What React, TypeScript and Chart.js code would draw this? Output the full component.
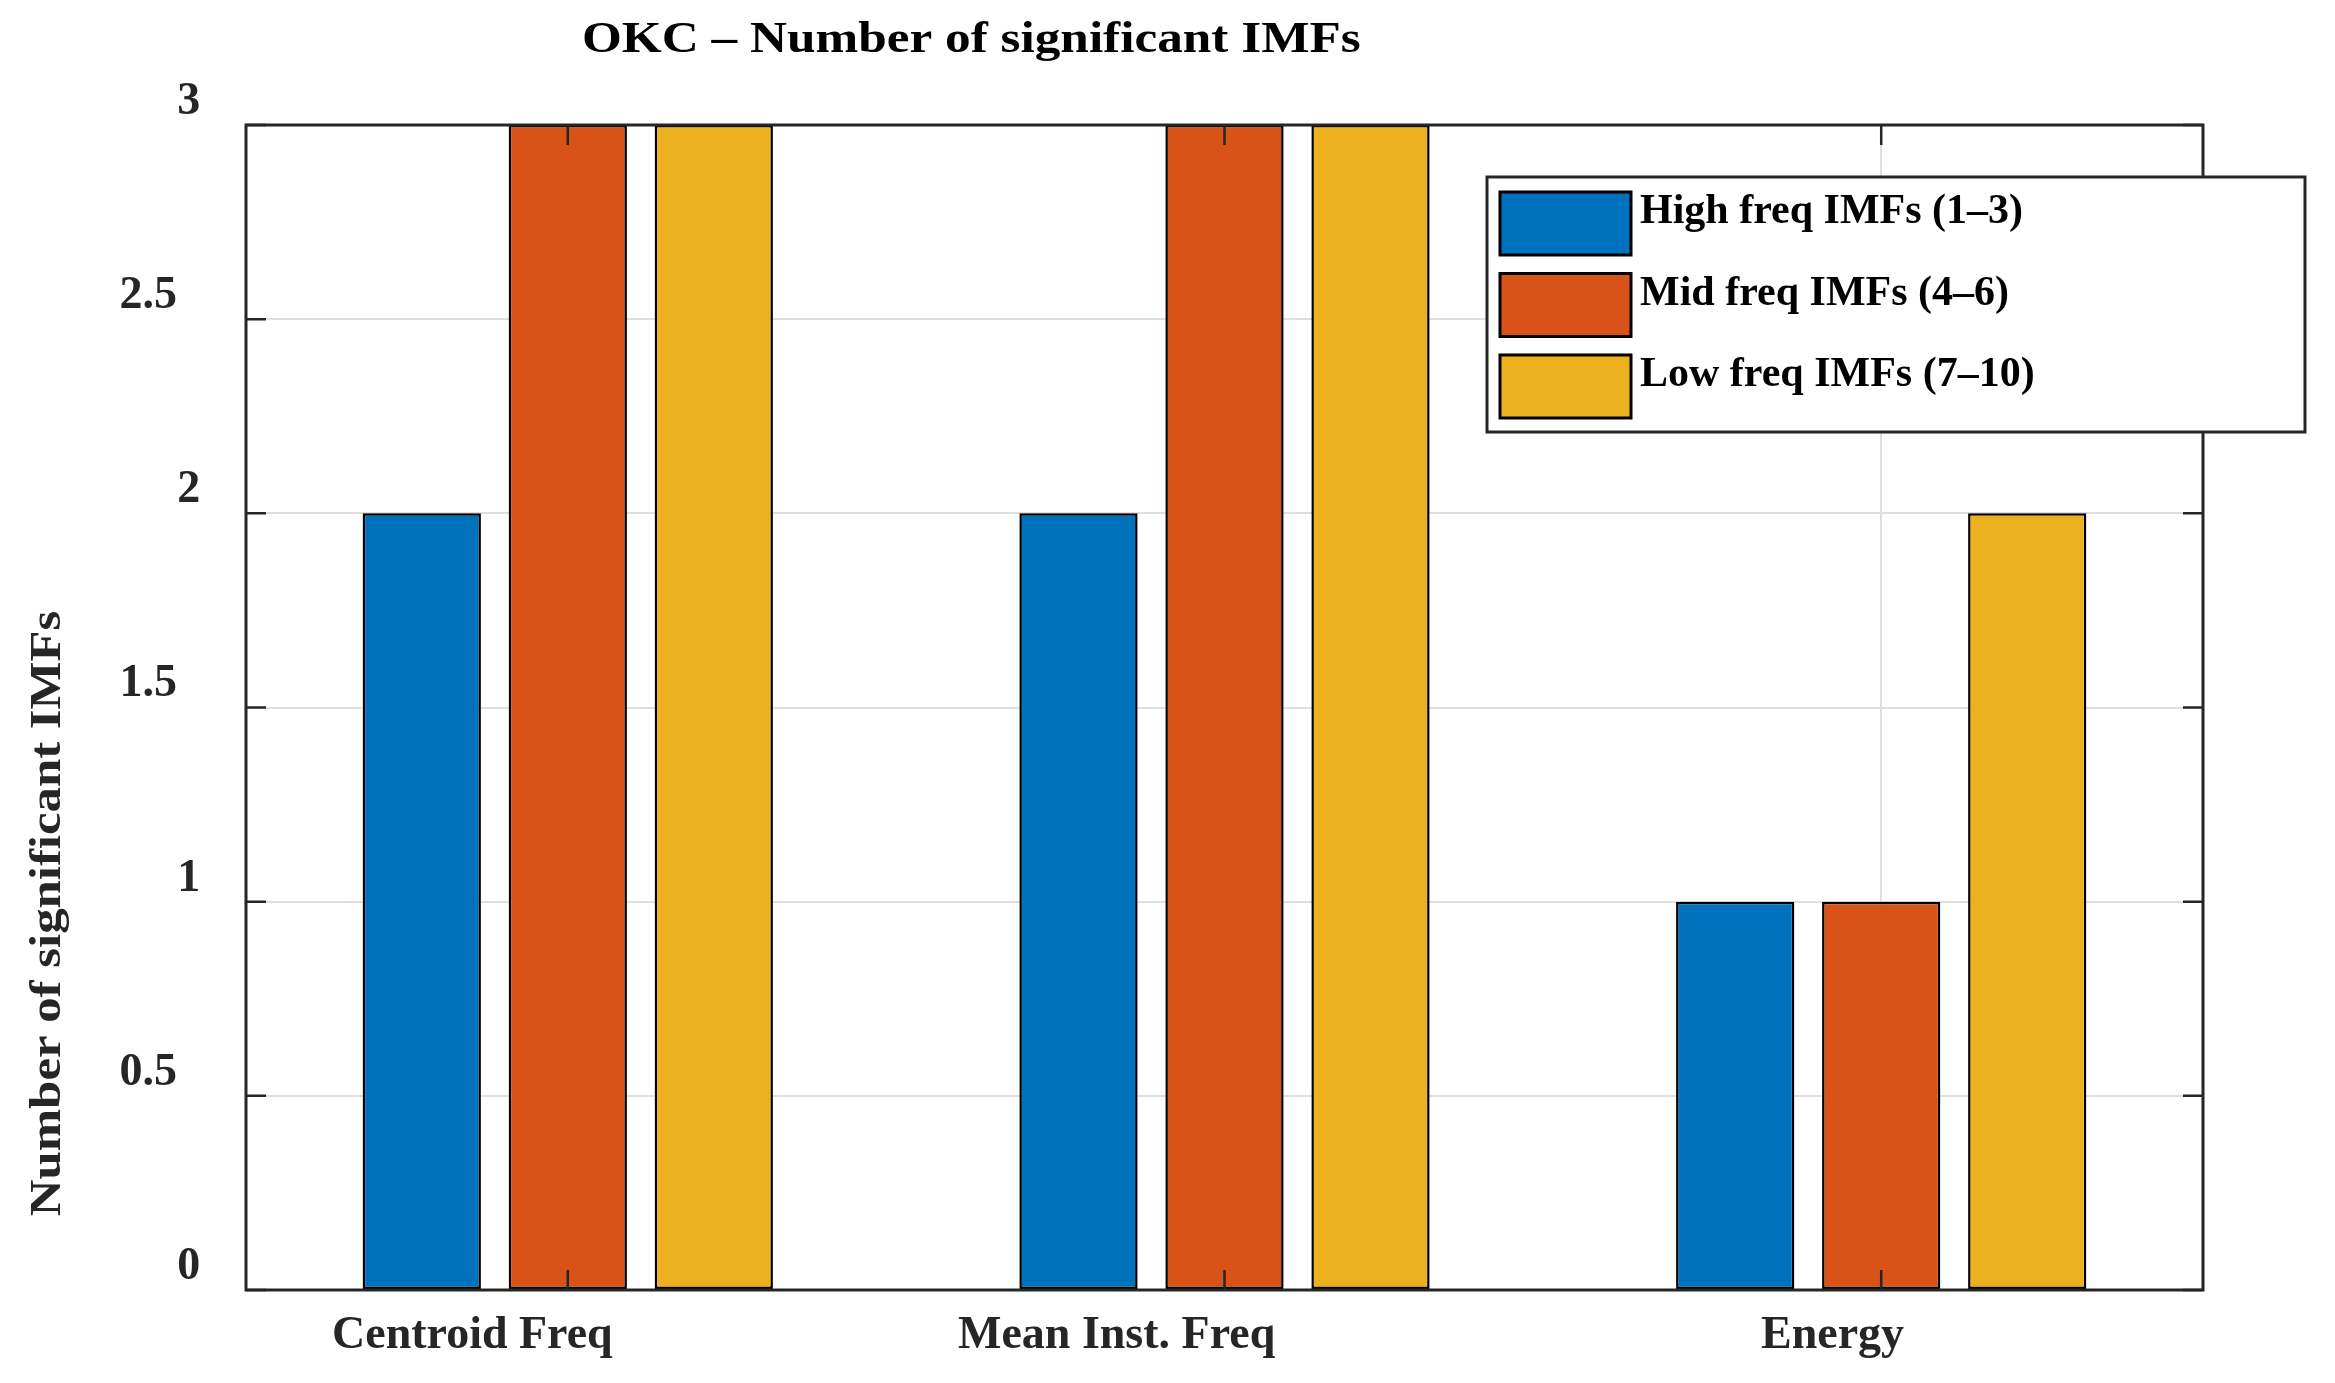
import React, { useEffect, useRef } from 'react';
import { Chart, registerables } from 'chart.js';

Chart.register(...registerables);

const categories = ['Centroid Freq', 'Mean Inst. Freq', 'Energy'];
const seriesLabels = ['High freq IMFs (1–3)', 'Mid freq IMFs (4–6)', 'Low freq IMFs (7–10)'];
const highFreq = [2, 2, 1];
const midFreq = [3, 3, 1];
const lowFreq = [3, 3, 2];
const yTicks = [0, 0.5, 1, 1.5, 2, 2.5, 3];
const yTickLabels = ['0', '0.5', '1', '1.5', '2', '2.5', '3'];
const titleText = 'OKC – Number of significant IMFs';
const yTitleText = 'Number of significant IMFs';
const seriesColors = ['#0072BD', '#D95319', '#EDB120'];

const FONT = "'Liberation Serif', 'Times New Roman', serif";
const AXIS_COLOR = '#262626';
const STRETCH = 1.155;
const TITLE_STRETCH = 1.165;

const decorPlugin = {
  id: 'matlabDecor',
  afterDatasetsDraw(chart: any) {
    const { ctx, chartArea: a, scales } = chart;
    const x = scales.x;
    const y = scales.y;
    ctx.save();
    ctx.strokeStyle = AXIS_COLOR;
    ctx.lineWidth = 2.5;
    const tl = 20;
    ctx.beginPath();
    yTicks.forEach((v) => {
      const py = y.getPixelForValue(v);
      ctx.moveTo(a.left, py);
      ctx.lineTo(a.left + tl, py);
      ctx.moveTo(a.right, py);
      ctx.lineTo(a.right - tl, py);
    });
    categories.forEach((_c, i) => {
      const px = x.getPixelForValue(i);
      ctx.moveTo(px, a.bottom);
      ctx.lineTo(px, a.bottom - tl);
      ctx.moveTo(px, a.top);
      ctx.lineTo(px, a.top + tl);
    });
    ctx.stroke();
    ctx.lineWidth = 3;
    ctx.strokeRect(a.left, a.top, a.right - a.left, a.bottom - a.top);
    ctx.restore();
  },
  afterDraw(chart: any) {
    const { ctx, chartArea: a, scales } = chart;
    const x = scales.x;
    const y = scales.y;
    ctx.save();

    // y tick labels
    ctx.fillStyle = AXIS_COLOR;
    ctx.font = `bold 46px ${FONT}`;
    ctx.textAlign = 'left';
    ctx.textBaseline = 'middle';
    yTicks.forEach((v, i) => {
      const lbl = yTickLabels[i];
      const w = ctx.measureText(lbl).width;
      const py = y.getPixelForValue(v);
      ctx.fillText(lbl, a.left - 30 - 1.68 * w, py - 23);
    });

    // x tick labels
    ctx.textBaseline = 'alphabetic';
    categories.forEach((c, i) => {
      const w = ctx.measureText(c).width;
      const px = x.getPixelForValue(i);
      ctx.fillText(c, px - 0.84 * w, a.bottom + 58);
    });

    // title
    ctx.fillStyle = '#000';
    ctx.font = `bold 44px ${FONT}`;
    const tw = ctx.measureText(titleText).width * TITLE_STRETCH;
    const cx = (a.left + a.right) / 2;
    ctx.save();
    ctx.translate(cx - 0.825 * tw, 52);
    ctx.scale(TITLE_STRETCH, 1);
    ctx.fillText(titleText, 0, 0);
    ctx.restore();

    // y title
    ctx.fillStyle = AXIS_COLOR;
    const yw = ctx.measureText(yTitleText).width * STRETCH;
    const cy = (a.top + a.bottom) / 2;
    ctx.save();
    ctx.translate(60, cy + 0.84 * yw);
    ctx.rotate(-Math.PI / 2);
    ctx.scale(STRETCH, 1);
    ctx.fillText(yTitleText, 0, 0);
    ctx.restore();

    // legend
    const lx = 1487, ly = 177, lw = 818, lh = 255;
    ctx.fillStyle = '#fff';
    ctx.fillRect(lx, ly, lw, lh);
    ctx.strokeStyle = AXIS_COLOR;
    ctx.lineWidth = 3;
    ctx.strokeRect(lx, ly, lw, lh);
    ctx.font = `bold 42px ${FONT}`;
    seriesLabels.forEach((lbl, i) => {
      const sy = ly + 15 + i * 81.5;
      ctx.fillStyle = seriesColors[i];
      ctx.fillRect(lx + 13, sy, 131, 63);
      ctx.strokeStyle = '#000';
      ctx.lineWidth = 3;
      ctx.strokeRect(lx + 13, sy, 131, 63);
      ctx.fillStyle = '#000';
      ctx.fillText(lbl, lx + 153, ly + 46 + i * 81.5);
    });

    ctx.restore();
  },
};

export default function App() {
  const canvasRef = useRef<HTMLCanvasElement | null>(null);

  useEffect(() => {
    document.body.style.margin = '0';
    const canvas = canvasRef.current;
    if (!canvas) return;
    const series = [highFreq, midFreq, lowFreq];
    const chart = new Chart(canvas, {
      type: 'bar',
      data: {
        datasets: series.map((d, i) => ({
          label: seriesLabels[i],
          data: d.map((v, k) => ({ x: k, y: v })),
          backgroundColor: seriesColors[i],
          borderColor: '#000',
          borderWidth: 2.5,
          borderSkipped: false,
          categoryPercentage: 0.667,
          barPercentage: 0.81,
        })),
      },
      options: {
        animation: false,
        responsive: false,
        devicePixelRatio: 1,
        layout: { padding: { left: 246, right: 132, top: 125, bottom: 93 } },
        plugins: {
          legend: { display: false },
          title: { display: false },
          tooltip: { enabled: false },
        },
        scales: {
          x: {
            type: 'linear',
            offset: false,
            min: -0.49,
            max: categories.length - 1 + 0.49,
            afterBuildTicks: (scale: any) => {
              scale.ticks = categories.map((_c, i) => ({ value: i }));
            },
            grid: { offset: false, color: '#dfdfdf', lineWidth: 2, drawTicks: false, tickLength: 0 },
            border: { display: false },
            ticks: { display: false },
          },
          y: {
            min: 0,
            max: 3,
            afterBuildTicks: (scale: any) => {
              scale.ticks = yTicks.map((v) => ({ value: v }));
            },
            grid: { color: '#dfdfdf', lineWidth: 2, drawTicks: false, tickLength: 0 },
            border: { display: false },
            ticks: { display: false },
          },
        },
      },
      plugins: [decorPlugin],
    } as any);
    return () => chart.destroy();
  }, []);

  return (
    <div style={{ position: 'fixed', left: 0, top: 0, width: 2335, height: 1383, background: '#fff' }}>
      <canvas ref={canvasRef} width={2335} height={1383} style={{ display: 'block' }} />
    </div>
  );
}
